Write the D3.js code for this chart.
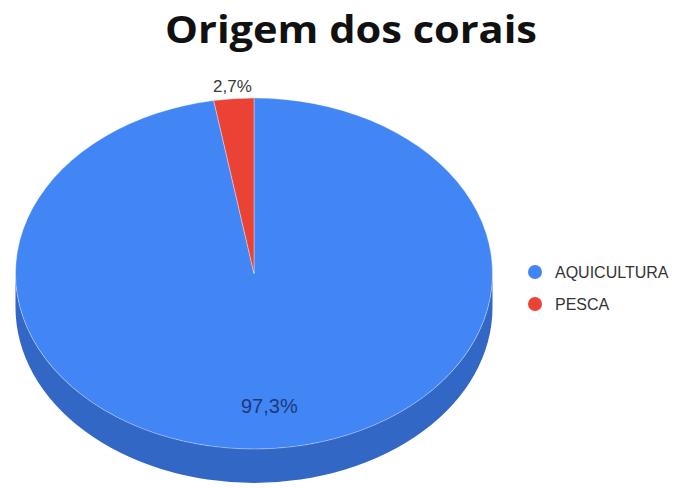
<!DOCTYPE html>
<html>
<head>
<meta charset="utf-8">
<script src="https://cdn.jsdelivr.net/npm/d3@7"></script>
<style>
  html, body { margin: 0; padding: 0; background: #fff; }
  svg { display: block; }
</style>
</head>
<body>
<svg id="chart" width="686" height="488"></svg>
<script>
// Chart data
const categories = ["AQUICULTURA", "PESCA"];
const values = [97.3, 2.7];
const valueLabels = ["97,3%", "2,7%"];
const title = "Origem dos corais";

const topColors = ["#4285f4", "#ea4335"];
const sideColors = ["#3267c6", "#b8342a"];

const W = 686, H = 488;
const svg = d3.select("#chart");

// Elliptical 3D pie geometry
const cx = 254, cy = 273.5, rx = 238.5, ry = 175.5, depth = 34;

const pie = d3.pie().sort(null).value(d => d)(values);

// angle measured clockwise from 12 o'clock
const px = (a, k = 1) => cx + rx * k * Math.sin(a);
const py = (a, k = 1, dy = 0) => cy - ry * k * Math.cos(a) + dy;

function slicePath(a0, a1) {
  const large = (a1 - a0) > Math.PI ? 1 : 0;
  return `M${cx},${cy}L${px(a0)},${py(a0)}A${rx},${ry} 0 ${large} 1 ${px(a1)},${py(a1)}Z`;
}

function wallPath(a0, a1) {
  const large = (a1 - a0) > Math.PI ? 1 : 0;
  return `M${px(a0)},${py(a0)}A${rx},${ry} 0 ${large} 1 ${px(a1)},${py(a1)}` +
         `L${px(a1)},${py(a1, 1, depth)}A${rx},${ry} 0 ${large} 0 ${px(a0)},${py(a0, 1, depth)}Z`;
}

// Front-facing wall spans angles from PI/2 to 3PI/2
const walls = svg.append("g");
pie.forEach((d, i) => {
  const a0 = Math.max(d.startAngle, Math.PI / 2);
  const a1 = Math.min(d.endAngle, 3 * Math.PI / 2);
  if (a1 > a0) {
    walls.append("path")
      .attr("d", wallPath(a0, a1))
      .attr("fill", sideColors[i]);
  }
});

// Top face
const faces = svg.append("g");
pie.forEach((d, i) => {
  faces.append("path")
    .attr("d", slicePath(d.startAngle, d.endAngle))
    .attr("fill", topColors[i])
    .attr("stroke", "#ffffff")
    .attr("stroke-opacity", 0.35)
    .attr("stroke-width", 1);
});

// Value labels
pie.forEach((d, i) => {
  const mid = (d.startAngle + d.endAngle) / 2;
  const small = (d.endAngle - d.startAngle) < 0.3;
  const k = small ? 1.07 : 0.76;
  svg.append("text")
    .attr("x", px(mid, k))
    .attr("y", py(mid, k))
    .attr("dy", "0.35em")
    .attr("text-anchor", "middle")
    .attr("font-family", "Arial, 'Liberation Sans', sans-serif")
    .attr("font-size", small ? 17 : 20)
    .attr("fill", small ? "#3a3a3a" : "#1b3a7a")
    .text(valueLabels[i]);
});

// Title
svg.append("text")
  .attr("x", 351)
  .attr("y", 43)
  .attr("text-anchor", "middle")
  .attr("font-family", "'Open Sans', Lato, sans-serif")
  .attr("font-weight", "bold")
  .attr("font-size", 37)
  .attr("textLength", 372)
  .attr("lengthAdjust", "spacingAndGlyphs")
  .attr("fill", "#111")
  .text(title);

// Legend
const legend = svg.append("g");
const legY = d3.scalePoint().domain(categories).range([272, 304]);
categories.forEach((c, i) => {
  legend.append("circle")
    .attr("cx", 535)
    .attr("cy", legY(c))
    .attr("r", 7)
    .attr("fill", topColors[i]);
  legend.append("text")
    .attr("x", 555)
    .attr("y", legY(c))
    .attr("dy", "0.36em")
    .attr("font-family", "Arial, 'Liberation Sans', sans-serif")
    .attr("font-size", 16)
    .attr("fill", "#333")
    .text(c);
});
</script>
</body>
</html>
